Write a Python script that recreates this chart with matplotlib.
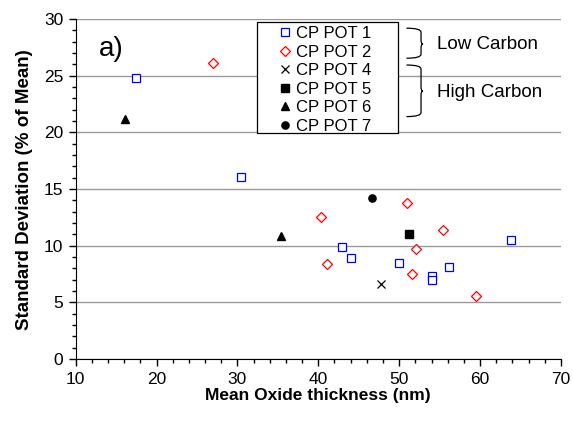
import matplotlib
matplotlib.use("Agg")
import matplotlib.pyplot as plt
from matplotlib.path import Path
import matplotlib.patches as mpatches

plt.rcParams["font.family"] = ["Liberation Sans", "DejaVu Sans"]

# ── data ──────────────────────────────────────────────────────
pot1_x = [17.5, 30.4, 42.9, 44.1, 50.0, 54.0, 54.1, 56.2, 63.8]
pot1_y = [24.8, 16.1, 9.9, 8.9, 8.45, 7.3, 6.95, 8.1, 10.55]
pot2_x = [27.0, 40.3, 41.1, 51.0, 51.6, 52.1, 55.4, 59.5]
pot2_y = [26.1, 12.5, 8.35, 13.75, 7.55, 9.7, 11.4, 5.6]
pot4_x = [47.7]
pot4_y = [6.65]
pot5_x = [51.2]
pot5_y = [11.0]
pot6_x = [16.1, 35.4]
pot6_y = [21.2, 10.85]
pot7_x = [46.7]
pot7_y = [14.25]

fig = plt.figure(figsize=(5.73, 4.25), dpi=100)
ax = fig.add_axes([0.132, 0.155, 0.847, 0.8])

ms = 5.2
ax.plot(pot1_x, pot1_y, "s", mfc="white", mec="#0000FF", mew=0.9, ms=ms, ls="none", label="CP POT 1")
ax.plot(pot2_x, pot2_y, "D", mfc="white", mec="#FF0000", mew=0.9, ms=ms - 0.6, ls="none", label="CP POT 2")
ax.plot(pot4_x, pot4_y, "x", color="black", mew=0.9, ms=ms + 0.4, ls="none", label="CP POT 4")
ax.plot(pot5_x, pot5_y, "s", color="black", ms=ms, ls="none", label="CP POT 5")
ax.plot(pot6_x, pot6_y, "^", color="black", ms=ms + 0.6, ls="none", label="CP POT 6")
ax.plot(pot7_x, pot7_y, "o", color="black", ms=ms, ls="none", label="CP POT 7")

ax.set_xlim(10, 70)
ax.set_ylim(0, 30)
ax.set_xticks(range(10, 71, 10))
ax.set_xticks(range(10, 71, 2), minor=True)
ax.set_yticks(range(0, 31, 5))
ax.set_yticks(range(0, 31, 1), minor=True)
ax.yaxis.grid(True, which="major", color="#999999", lw=1.0)
ax.set_axisbelow(True)
for s in ["top", "right"]:
    ax.spines[s].set_visible(False)
ax.tick_params(which="major", direction="out", length=5, width=1, labelsize=12.5, pad=4)
ax.tick_params(which="minor", direction="out", length=3, width=1)

ax.set_xlabel("Mean Oxide thickness (nm)", fontsize=12.5, fontweight="bold", labelpad=1)
ax.set_ylabel("Standard Deviation (% of Mean)", fontsize=13.5, fontweight="bold", labelpad=8)

ax.text(12.9, 27.4, "a)", fontsize=20, va="center", ha="left")

# legend: text/markers without frame, box drawn separately (Excel-style padding)
leg = ax.legend(loc="upper left", bbox_to_anchor=(0.4137, 0.980), fontsize=12,
                handlelength=1.0, handletextpad=0.15, labelspacing=0.215,
                borderpad=0, frameon=False, borderaxespad=0)
ax.add_patch(mpatches.Rectangle((0.374, 0.665), 0.2906, 0.326, transform=ax.transAxes,
                                fill=True, facecolor="white", edgecolor="black",
                                lw=0.9, zorder=4))
leg.set_zorder(5)


def brace(ax, x0, xv, xt, ya, yb, ym):
    # right curly brace: ends at x0, vertical at xv, tip at xt
    r = 0.35
    verts = [
        (x0, ya), (xv, ya), (xv, ya - r),
        (xv, ym + r), (xv, ym), (xt, ym),
        (xv, ym), (xv, ym - r),
        (xv, yb + r), (xv, yb), (x0, yb),
    ]
    codes = [Path.MOVETO, Path.CURVE3, Path.CURVE3,
             Path.LINETO, Path.CURVE3, Path.CURVE3,
             Path.CURVE3, Path.CURVE3,
             Path.LINETO, Path.CURVE3, Path.CURVE3]
    ax.add_patch(mpatches.PathPatch(Path(verts, codes), fill=False, lw=0.9,
                                    edgecolor="black", clip_on=False))


brace(ax, 50.9, 52.7, 52.95, 29.2, 26.55, 27.8)
brace(ax, 50.9, 52.7, 52.95, 25.95, 21.4, 23.65)
ax.text(54.7, 27.75, "Low Carbon", fontsize=13.5, va="center", ha="left")
ax.text(54.7, 23.5, "High Carbon", fontsize=13.5, va="center", ha="left")

fig.savefig("out.png", dpi=100)
